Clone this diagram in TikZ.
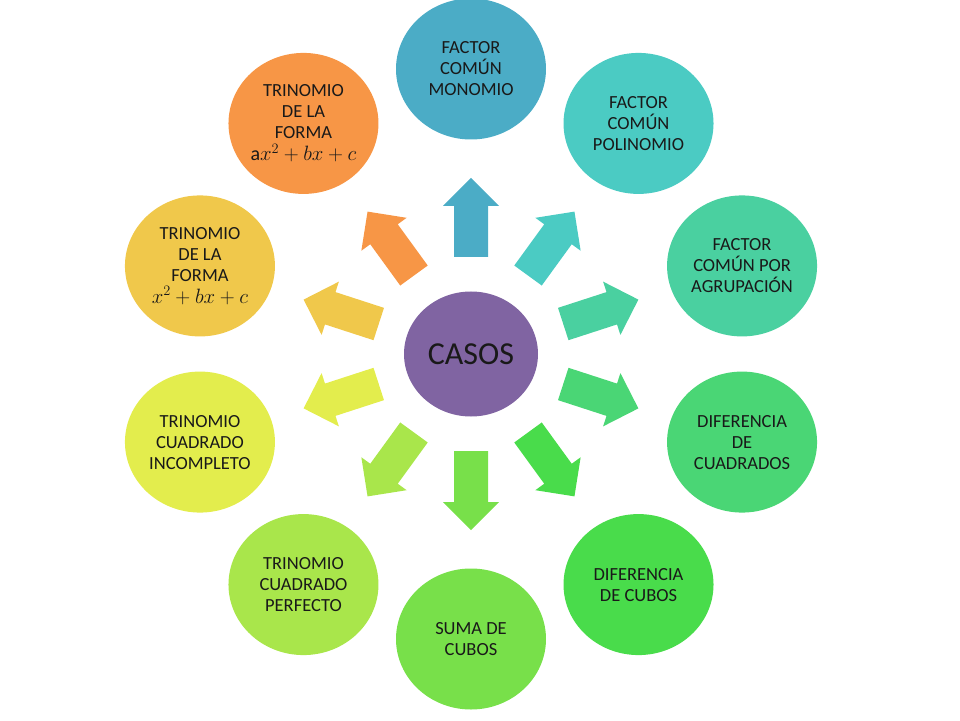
\documentclass[tikz,border=0pt]{standalone}
\usepackage{fontspec}
\setmainfont{Carlito}
\usetikzlibrary{shapes.geometric}
\definecolor{col0}{HTML}{4BACC6}
\definecolor{col1}{HTML}{4BCBC3}
\definecolor{col2}{HTML}{4AD0A0}
\definecolor{col3}{HTML}{4AD675}
\definecolor{col4}{HTML}{49DC4B}
\definecolor{col5}{HTML}{78E04A}
\definecolor{col6}{HTML}{A9E64B}
\definecolor{col7}{HTML}{E3ED4D}
\definecolor{col8}{HTML}{F0C84B}
\definecolor{col9}{HTML}{F79646}
\definecolor{casoscol}{HTML}{8064A2}
\newcommand{\formula}[1]{{\fontsize{20}{21}\selectfont #1}}
\begin{document}
\begin{tikzpicture}[x=1pt,y=1pt,
    caso/.style={ellipse, minimum width=150pt, minimum height=141pt, inner sep=0pt, align=center, text=black!90, font=\fontsize{18.5}{21}\selectfont},
    centro/.style={ellipse, fill=casoscol, minimum width=134pt, minimum height=125pt, inner sep=0pt, text=black!90, font=\fontsize{32}{38}\selectfont}]
  \useasboundingbox (-471,-366) rectangle (489,354);
  % centre
  \node[centro] (casos) at (0,0) {CASOS};
  % block arrows
  \foreach \i in {0,...,9}
    \fill[col\i, rotate=90-36*\i] (97,-17) -- (148,-17) -- (148,-28) -- (176,0) -- (148,28) -- (148,17) -- (97,17) -- cycle;
  % cases
  \node[caso, fill=col0] (monomio) at (90:285) {FACTOR\\COMÚN\\MONOMIO};
  \node[caso, fill=col1] (polinomio) at (54:285) {FACTOR\\COMÚN\\POLINOMIO};
  \node[caso, fill=col2] (agrupacion) at (18:285) {FACTOR\\COMÚN POR\\AGRUPACIÓN};
  \node[caso, fill=col3] (difcuadrados) at (-18:285) {DIFERENCIA\\DE\\CUADRADOS};
  \node[caso, fill=col4] (difcubos) at (-54:285) {DIFERENCIA\\DE CUBOS};
  \node[caso, fill=col5] (sumacubos) at (-90:285) {SUMA DE\\CUBOS};
  \node[caso, fill=col6] (perfecto) at (-126:285) {TRINOMIO\\CUADRADO\\PERFECTO};
  \node[caso, fill=col7] (incompleto) at (-162:285) {TRINOMIO\\CUADRADO\\INCOMPLETO};
  \node[caso, fill=col8] (formax) at (162:285) {TRINOMIO\\DE LA\\FORMA\\[1pt]\formula{$x^2+bx+c$}};
  \node[caso, fill=col9] (formaax) at (126:285) {TRINOMIO\\DE LA\\FORMA\\[1pt]\formula{a$x^2+bx+c$}};
\end{tikzpicture}
\end{document}
